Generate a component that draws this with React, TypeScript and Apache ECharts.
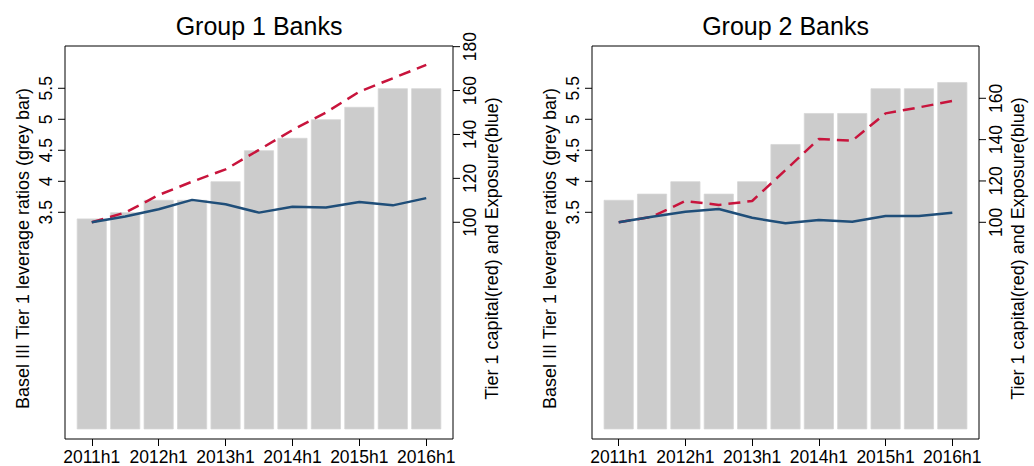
import React, { useEffect, useRef } from "react";
import * as echarts from "echarts";

const periods = ["2011h1", "2011h2", "2012h1", "2012h2", "2013h1", "2013h2", "2014h1", "2014h2", "2015h1", "2015h2", "2016h1"];
const xTickIndex = [0, 2, 4, 6, 8, 10];
const leftTicks = [3.5, 4, 4.5, 5, 5.5];
const rightTicks1 = [100, 120, 140, 160, 180];
const rightTicks2 = [100, 120, 140, 160];

const g1Leverage = [3.4, 3.5, 3.7, 3.7, 4.0, 4.5, 4.7, 5.0, 5.2, 5.5, 5.5];
const g1Capital = [100, 104.4, 112.4, 118.5, 124.1, 133, 142, 150, 159.5, 165.6, 171.7];
const g1Exposure = [100, 102.6, 105.9, 110.2, 108.2, 104.4, 107.1, 106.7, 109.2, 107.7, 111];

const g2Leverage = [3.7, 3.8, 4.0, 3.8, 4.0, 4.6, 5.1, 5.1, 5.5, 5.5, 5.6];
const g2Capital = [100, 102.7, 110.3, 108.4, 110.3, 125.3, 140.3, 139.5, 152.7, 155.6, 158.7];
const g2Exposure = [100, 102.7, 105.1, 106.4, 102.2, 99.5, 101.1, 100.3, 103, 103, 104.6];

const titles = ["Group 1 Banks", "Group 2 Banks"];
const leftName = "Basel III Tier 1 leverage ratios (grey bar)";
const rightName = "Tier 1 capital(red) and Exposure(blue)";

const FONT = "'Liberation Sans', Arial, Helvetica, sans-serif";
const FS = 17.5;
const NFS = 18;
const RED = "#c8143c";
const BLUE = "#1f4e79";
const BAR = "#cccccc";
const X_MIN = -0.8;
const X_MAX = 10.8;

function pairs(vals: number[]) {
  return vals.map((v, i) => [i, v]);
}

export default function App() {
  const ref = useRef<HTMLDivElement>(null);
  useEffect(() => {
    if (!ref.current) return;
    const chart = echarts.init(ref.current, null, { renderer: "svg" });
    const tickStyle = { show: true, length: 7, inside: false, lineStyle: { color: "#000", width: 1 } };
    const xAxis = (gridIndex: number) => ({
      type: "value",
      gridIndex,
      min: X_MIN,
      max: X_MAX,
      splitLine: { show: false },
      axisLine: { show: false, onZero: false },
      axisTick: { ...tickStyle, customValues: xTickIndex },
      axisLabel: {
        customValues: xTickIndex,
        formatter: (v: number) => periods[Math.round(v)],
        color: "#000",
        fontSize: FS,
        fontFamily: FONT,
        margin: 9,
      },
    });
    const leftAxis = (gridIndex: number) => ({
      type: "value",
      gridIndex,
      position: "left",
      min: -0.156,
      max: 6.182,
      splitLine: { show: false },
      axisLine: { show: false, onZero: false },
      axisTick: { show: false },
      axisLabel: {
        customValues: leftTicks,
        rotate: 90,
        color: "#000",
        fontSize: FS,
        fontFamily: FONT,
        margin: 10,
        formatter: (v: number) => String(v),
      },
      name: leftName,
      nameLocation: "middle",
      nameRotate: 90,
      nameGap: 33,
      nameTextStyle: { color: "#000", fontSize: NFS, fontFamily: FONT, padding: [0, 12, 0, 0] },
    });
    const rightAxis = (gridIndex: number, min: number, max: number, ticks: number[]) => ({
      type: "value",
      gridIndex,
      position: "right",
      min,
      max,
      splitLine: { show: false },
      axisLine: { show: false, onZero: false },
      axisTick: { show: false },
      axisLabel: {
        customValues: ticks,
        rotate: 90,
        color: "#000",
        fontSize: FS,
        fontFamily: FONT,
        margin: 8,
        formatter: (v: number) => String(v),
      },
      name: rightName,
      nameLocation: "middle",
      nameRotate: 90,
      nameGap: 30,
      nameTextStyle: { color: "#000", fontSize: NFS, fontFamily: FONT, padding: [0, 12, 0, 0] },
    });
    // y-axis tick marks drawn through the axes' own scales
    const tickSeries = (xi: number, yi: number, edge: number, ticks: number[], dir: number) => ({
      type: "custom",
      xAxisIndex: xi,
      yAxisIndex: yi,
      silent: true,
      clip: false,
      z: 5,
      data: ticks.map((v) => [edge, v]),
      renderItem: (_params: any, api: any) => {
        const p = api.coord([api.value(0), api.value(1)]);
        return {
          type: "line",
          shape: { x1: p[0], y1: p[1], x2: p[0] + dir * 7, y2: p[1] },
          style: { stroke: "#000", lineWidth: 1 },
        };
      },
    });
    const barSeries = (xi: number, yi: number, vals: number[]) => ({
      type: "bar",
      xAxisIndex: xi,
      yAxisIndex: yi,
      data: pairs(vals),
      barWidth: 30,
      itemStyle: { color: BAR, borderColor: "#d6d6d6", borderWidth: 0.8 },
    });
    const lineSeries = (xi: number, yi: number, vals: number[], color: string, dashed: boolean) => ({
      type: "line",
      xAxisIndex: xi,
      yAxisIndex: yi,
      data: pairs(vals),
      symbol: "none",
      lineStyle: { color, width: 2.5, type: dashed ? [12, 7] : "solid" },
    });
    chart.setOption({
      animation: false,
      backgroundColor: "#fff",
      title: [
        { text: titles[0], left: 259, top: 13, textAlign: "center", padding: 0, textStyle: { color: "#000", fontSize: 25, fontWeight: "normal", fontFamily: FONT } },
        { text: titles[1], left: 785.5, top: 13, textAlign: "center", padding: 0, textStyle: { color: "#000", fontSize: 25, fontWeight: "normal", fontFamily: FONT } },
      ],
      grid: [
        { left: 65, width: 388, top: 46, height: 393, show: true, borderColor: "#000", borderWidth: 1, backgroundColor: "transparent" },
        { left: 592, width: 387, top: 46, height: 393, show: true, borderColor: "#000", borderWidth: 1, backgroundColor: "transparent" },
      ],
      xAxis: [xAxis(0), xAxis(1)],
      yAxis: [leftAxis(0), rightAxis(0, 1.27, 180.3, rightTicks1), leftAxis(1), rightAxis(1, -4.84, 185.3, rightTicks2)],
      series: [
        barSeries(0, 0, g1Leverage),
        lineSeries(0, 1, g1Capital, RED, true),
        lineSeries(0, 1, g1Exposure, BLUE, false),
        barSeries(1, 2, g2Leverage),
        lineSeries(1, 3, g2Capital, RED, true),
        lineSeries(1, 3, g2Exposure, BLUE, false),
        tickSeries(0, 0, X_MIN, leftTicks, -1),
        tickSeries(0, 1, X_MAX, rightTicks1, 1),
        tickSeries(1, 2, X_MIN, leftTicks, -1),
        tickSeries(1, 3, X_MAX, rightTicks2, 1),
      ],
    });
    return () => chart.dispose();
  }, []);
  return <div ref={ref} style={{ position: "absolute", left: 0, top: 0, width: 1034, height: 466 }} />;
}
